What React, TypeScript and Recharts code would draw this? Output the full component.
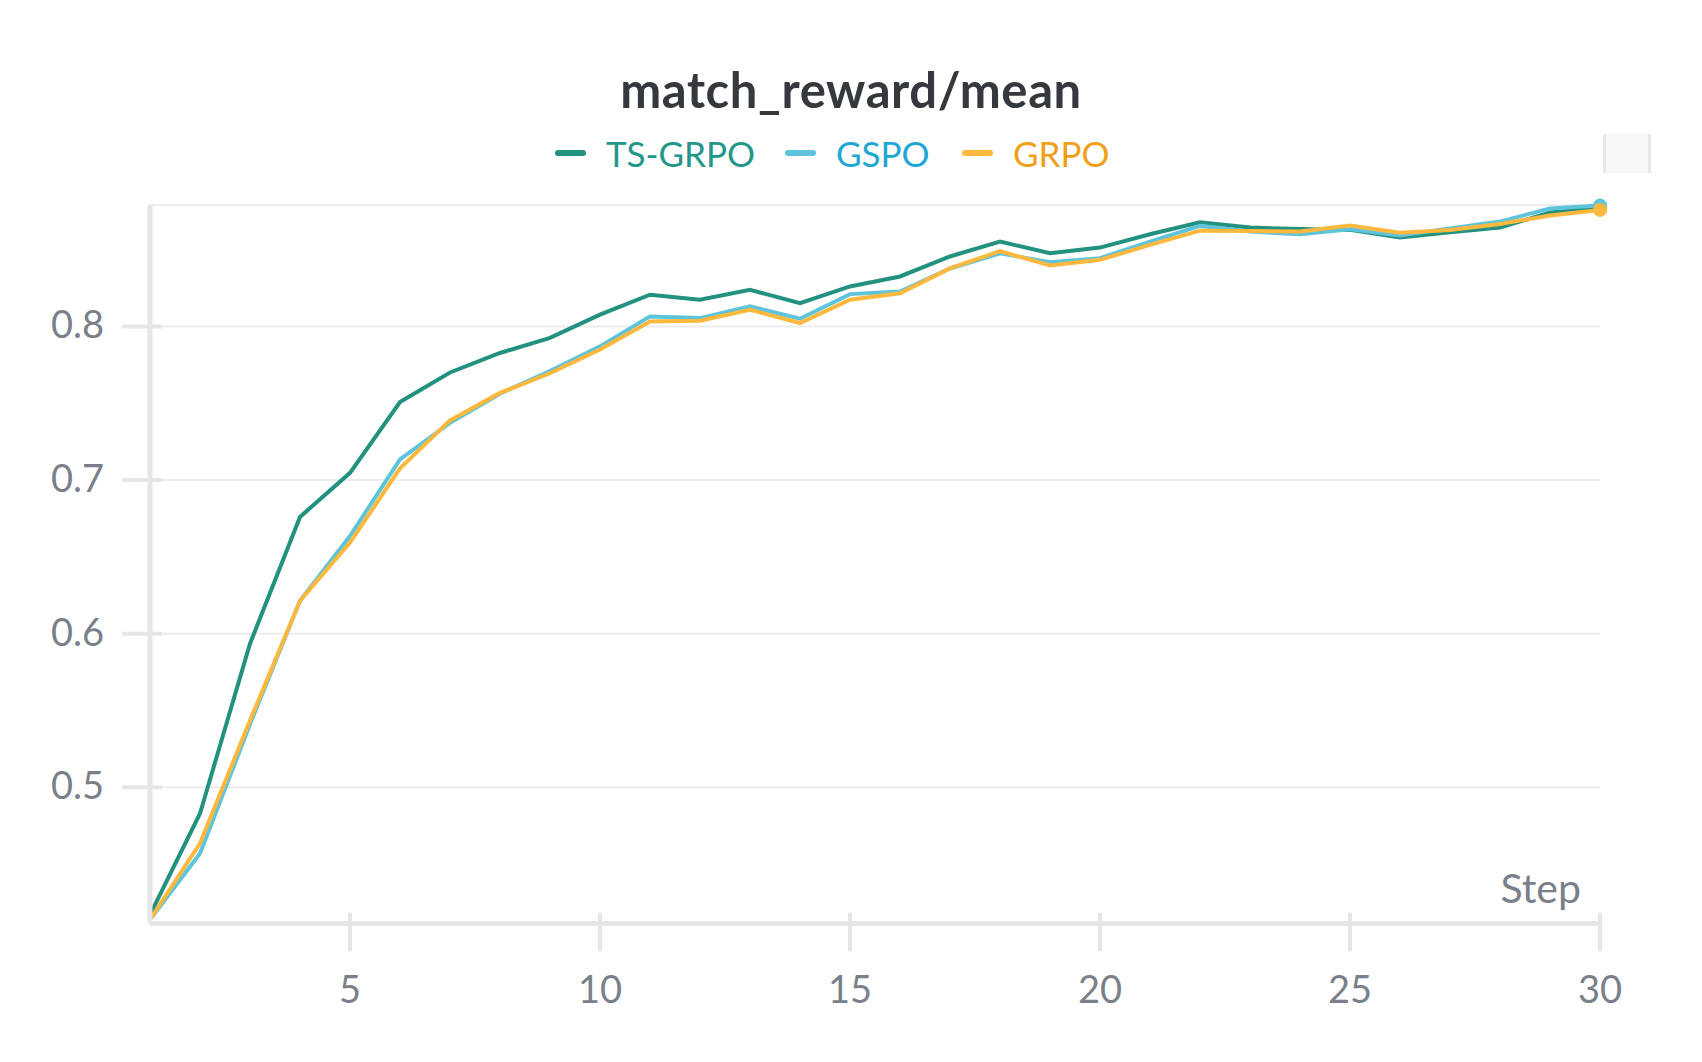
import React from "react";
import { LineChart, Line, XAxis, YAxis, CartesianGrid } from "recharts";

const steps = [
  1, 2, 3, 4, 5, 6, 7, 8, 9, 10, 11, 12, 13, 14, 15, 16, 17, 18, 19, 20, 21,
  22, 23, 24, 25, 26, 27, 28, 29, 30,
];

const tsGrpo = [
  0.417, 0.483, 0.5935, 0.676, 0.7047, 0.7508, 0.770, 0.7827, 0.7925, 0.8076,
  0.8206, 0.8173, 0.8238, 0.8151, 0.826, 0.8325, 0.8455, 0.8552, 0.8476,
  0.8513, 0.86, 0.8677, 0.8643, 0.8634, 0.8628, 0.8578, 0.8612, 0.8643,
  0.8742, 0.877,
];

const gspo = [
  0.414, 0.457, 0.541, 0.6214, 0.6636, 0.7134, 0.7372, 0.7562, 0.771, 0.787,
  0.8065, 0.8054, 0.813, 0.805, 0.821, 0.8227, 0.8377, 0.8475, 0.8418,
  0.8444, 0.8552, 0.8654, 0.8617, 0.86, 0.8632, 0.8591, 0.8638, 0.8682,
  0.8768, 0.8786,
];

const grpo = [
  0.414, 0.4636, 0.5435, 0.6214, 0.6593, 0.7076, 0.7388, 0.7567, 0.7695,
  0.7849, 0.8032, 0.8037, 0.8108, 0.8022, 0.8173, 0.8216, 0.8377, 0.849,
  0.8396, 0.8433, 0.853, 0.8623, 0.8621, 0.8617, 0.8656, 0.861, 0.8628,
  0.8667, 0.8721, 0.8758,
];

const xTicks = [5, 10, 15, 20, 25, 30];
const yTicks = [0.5, 0.6, 0.7, 0.8];

const series = [
  { key: "tsGrpo", name: "TS-GRPO", line: "#22917f", text: "#23968a", left: 555 },
  { key: "gspo", name: "GSPO", line: "#5ec4dc", text: "#1ea7d4", left: 785 },
  { key: "grpo", name: "GRPO", line: "#ffb83e", text: "#f19f18", left: 962 },
];

const data = steps.map((s, i) => ({
  step: s,
  tsGrpo: tsGrpo[i],
  gspo: gspo[i],
  grpo: grpo[i],
}));

const FONT = "Lato, 'Noto Sans', sans-serif";
const AXIS = "#e6e6e9";
const LABEL = "#7a808a";
const last = steps.length - 1;

function XTick(props: any) {
  const { x, y, payload } = props;
  return (
    <g>
      <line x1={x} x2={x} y1={y - 19} y2={y + 20} stroke={AXIS} strokeWidth={4} />
      <text x={x} y={y + 71} textAnchor="middle" fill={LABEL} fontSize={38} fontFamily={FONT}>
        {payload.value}
      </text>
    </g>
  );
}

function YTick(props: any) {
  const { x, y, payload } = props;
  return (
    <g>
      <line x1={x - 20} x2={x + 20} y1={y} y2={y} stroke={AXIS} strokeWidth={4} />
      <text x={104} y={y + 12} textAnchor="end" fill={LABEL} fontSize={38} fontFamily={FONT}>
        {payload.value.toFixed(1)}
      </text>
    </g>
  );
}

function endDot(color: string) {
  return (props: any) => {
    const { cx, cy, index } = props;
    if (index !== last) return <g key={`d${index}`} />;
    return <circle key={`d${index}`} cx={cx} cy={cy} r={7} fill={color} />;
  };
}

export default function App() {
  return (
    <div style={{ position: "absolute", left: 0, top: 0, width: 1702, height: 1062, background: "#fff" }}>
      <div
        style={{
          position: "absolute",
          top: 59,
          left: 0,
          width: 1702,
          textAlign: "center",
          fontFamily: FONT,
          fontWeight: 700,
          fontSize: 49,
          letterSpacing: 0.6,
          color: "#35383d",
          lineHeight: "60px",
        }}
      >
        match_reward/mean
      </div>
      {series.map((s) => (
        <div
          key={s.key}
          style={{
            position: "absolute",
            left: s.left,
            top: 131,
            height: 44,
            display: "flex",
            alignItems: "center",
            fontFamily: FONT,
            fontSize: 35,
            color: s.text,
          }}
        >
          <div style={{ width: 31, height: 6, borderRadius: 3, background: s.line, marginRight: 20 }} />
          <span>{s.name}</span>
        </div>
      ))}
      <div
        style={{
          position: "absolute",
          left: 1603,
          top: 134,
          width: 42,
          height: 39,
          background: "#f8f8f8",
          borderLeft: "3px solid #e8e8e8",
          borderRight: "3px solid #e8e8e8",
        }}
      />
      <div
        style={{
          position: "absolute",
          right: 1702 - 1581,
          top: 864,
          fontFamily: FONT,
          fontSize: 41,
          color: LABEL,
          lineHeight: "48px",
        }}
      >
        Step
      </div>
      <div style={{ position: "absolute", left: 0, top: 0 }}>
        <LineChart
          width={1702}
          height={1062}
          data={data}
          margin={{ top: 205, right: 102, bottom: 0, left: 0 }}
        >
          <CartesianGrid vertical={false} stroke="#ececec" strokeWidth={2} />
          <XAxis
            dataKey="step"
            type="number"
            domain={[1, 30]}
            ticks={xTicks}
            height={138.5}
            axisLine={{ stroke: AXIS, strokeWidth: 5 }}
            tickLine={false}
            tick={<XTick />}
          />
          <YAxis
            type="number"
            domain={[0.4114, 0.879]}
            ticks={yTicks}
            width={150}
            axisLine={{ stroke: AXIS, strokeWidth: 5 }}
            tickLine={false}
            tick={<YTick />}
          />
          {series.map((s) => (
            <Line
              key={s.key}
              type="linear"
              dataKey={s.key}
              name={s.name}
              stroke={s.line}
              strokeWidth={4}
              dot={endDot(s.line)}
              activeDot={false}
              isAnimationActive={false}
            />
          ))}
        </LineChart>
      </div>
    </div>
  );
}
